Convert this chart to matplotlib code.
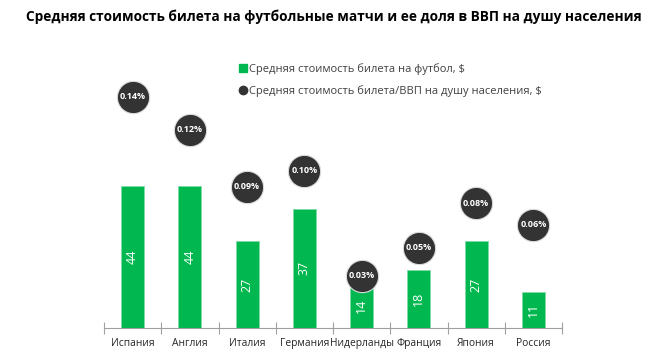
import matplotlib
matplotlib.use("Agg")
from matplotlib import pyplot as plt
from matplotlib.lines import Line2D

plt.rcParams['font.family'] = ['Open Sans', 'DejaVu Sans']

countries = ["Испания", "Англия", "Италия", "Германия", "Нидерланды",
             "Франция", "Япония", "Россия"]
ticket_price = [44, 44, 27, 37, 14, 18, 27, 11]
share_gdp = [0.141, 0.121, 0.086, 0.096, 0.032, 0.049, 0.076, 0.063]

green = "#00b84f"
dark = "#333333"

fig = plt.figure(figsize=(6.61, 3.57), dpi=100)
ax = fig.add_axes([104 / 661, 29 / 357, 458 / 661, 268 / 357])
ax2 = ax.twinx()

x = list(range(len(countries)))
ax.bar(x, ticket_price, width=0.4, color=green, edgecolor="#7fdca7", linewidth=0.6, zorder=2)
for xi, v in zip(x, ticket_price):
    ax.text(xi, v / 2, str(v), rotation=90, ha="center", va="center",
            color="white", fontsize=9, zorder=3)

ax2.scatter(x, share_gdp, s=540, color=dark, edgecolors="#dddddd", linewidths=0.8, zorder=4)
for xi, v in zip(x, share_gdp):
    ax2.text(xi, v, "%.2f%%" % v, ha="center", va="center", color="white",
             fontsize=6.5, fontweight="bold", zorder=5)

ax.set_xlim(-0.5, len(countries) - 0.5)
ax.set_ylim(0, 83)
ax2.set_ylim(0, 0.1634)

ax.set_xticks([i - 0.5 for i in range(len(countries) + 1)])
ax.set_xticklabels([])
ax.set_xticks(x, minor=True)
ax.set_xticklabels(countries, minor=True, fontsize=7.4, color="#262626")
ax.tick_params(axis="x", which="major", direction="inout", length=8, color="#a0a0a0", width=0.8)
ax.tick_params(axis="x", which="minor", length=0, pad=7)
ax.set_yticks([])
ax2.set_yticks([])
for a in (ax, ax2):
    for side in ("top", "left", "right"):
        a.spines[side].set_visible(False)
    a.spines["bottom"].set_color("#a0a0a0")
    a.spines["bottom"].set_linewidth(0.8)
ax2.spines["bottom"].set_visible(False)
ax2.set_zorder(ax.get_zorder() + 1)
ax.patch.set_visible(False)

fig.text(334 / 661, 1 - 17 / 357, "Средняя стоимость билета на футбольные матчи и ее доля в ВВП на душу населения",
         ha="center", va="center", fontsize=9.8, fontweight="bold", color="black")

handles = [
    Line2D([], [], marker="s", color=green, linestyle="none", markersize=6),
    Line2D([], [], marker="o", color=dark, linestyle="none", markersize=6),
]
labels = ["Средняя стоимость билета на футбол, $",
          "Средняя стоимость билета/ВВП на душу населения, $"]
fig.legend(handles, labels, loc="upper left", bbox_to_anchor=(227 / 661, 1 - 53 / 357),
           frameon=False, fontsize=8, handletextpad=0.1, labelspacing=0.9,
           handlelength=1.0, labelcolor="#404040")

fig.savefig("out.png", dpi=100)
